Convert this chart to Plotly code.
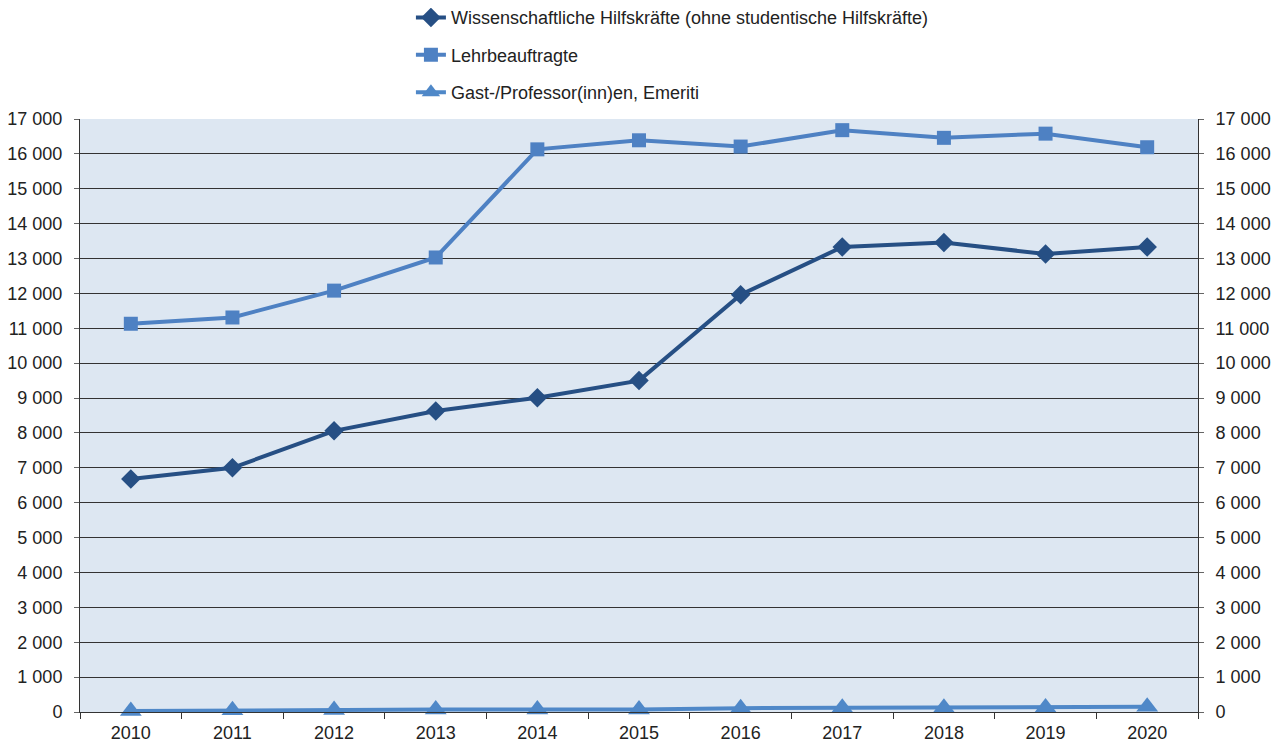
import plotly.graph_objects as go

years = ["2010", "2011", "2012", "2013", "2014", "2015", "2016", "2017", "2018", "2019", "2020"]
wiss = [6680, 7000, 8060, 8630, 9010, 9500, 11960, 13330, 13460, 13130, 13330]
lehr = [11130, 11310, 12080, 13030, 16130, 16390, 16210, 16680, 16460, 16580, 16190]
gast = [30, 50, 60, 70, 70, 70, 110, 120, 120, 130, 150]

names = ["Wissenschaftliche Hilfskräfte (ohne studentische Hilfskräfte)",
         "Lehrbeauftragte",
         "Gast-/Professor(inn)en, Emeriti"]
colors = ["#264F84", "#4E81C3", "#4F88C8"]
symbols = ["diamond", "square", "triangle-up"]
sizes = [15, 14, 19]

fig = go.Figure()
for i, vals in enumerate([wiss, lehr, gast]):
    fig.add_trace(go.Scatter(
        x=years, y=vals, name=names[i], mode="lines+markers",
        line=dict(color=colors[i], width=4),
        marker=dict(symbol=symbols[i], size=sizes[i], color=colors[i]),
        legendgroup=f"g{i}", cliponaxis=False,
    ))
# invisible trace for the right axis
fig.add_trace(go.Scatter(x=years, y=wiss, yaxis="y2", showlegend=False,
                         mode="lines", line=dict(width=0), hoverinfo="skip", opacity=0))

tickvals = list(range(0, 17001, 1000))
fig.update_layout(
    width=1277, height=736,
    margin=dict(l=72, r=87, t=111, b=32, autoexpand=False),
    paper_bgcolor="white", plot_bgcolor="#DDE7F2",
    separators=", ",
    font=dict(family="Liberation Sans, Arial, sans-serif", size=18, color="#222222"),
    showlegend=True,
    legend=dict(x=0.296, y=1.202, xref="paper", yref="paper", yanchor="top", xanchor="left",
                font=dict(size=18), tracegroupgap=11, bgcolor="rgba(0,0,0,0)"),
    xaxis=dict(type="category", range=[-0.5, 10.5], tickson="boundaries", ticks="outside",
               ticklen=6, tickcolor="#333333", showgrid=False, showline=True,
               linecolor="#333333", linewidth=1, zeroline=False, fixedrange=True,
               ticklabelstandoff=4),
    yaxis=dict(range=[0, 17000], tickvals=tickvals, tickformat=",d", ticks="outside",
               ticklen=5, tickcolor="#666666", showgrid=True, gridcolor="#333333", gridwidth=1,
               showline=True, linecolor="#333333", linewidth=1, zeroline=False,
               ticklabelstandoff=8),
    yaxis2=dict(range=[0, 17000], tickvals=tickvals, tickformat=",d", ticks="outside",
                ticklen=5, tickcolor="#666666", overlaying="y", side="right",
                showgrid=False, showline=True, linecolor="#333333", linewidth=1, zeroline=False,
                ticklabelstandoff=8),
)
fig.write_html("out.html")
